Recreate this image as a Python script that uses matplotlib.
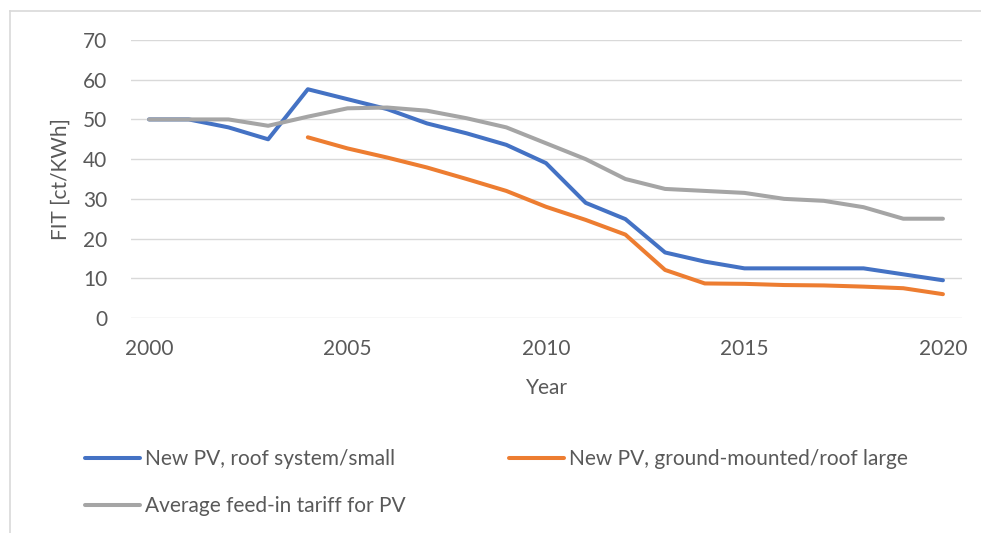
import matplotlib
matplotlib.use("Agg")
import matplotlib.pyplot as plt
from matplotlib.lines import Line2D
import numpy as np

plt.rcParams['font.family'] = ['Lato', 'DejaVu Sans']

years = list(range(2000, 2021))
roof_small = [50, 50, 48, 45, 57.6, 55.1, 52.6, 49, 46.5, 43.6, 39, 29, 24.9,
              16.5, 14.2, 12.5, 12.5, 12.5, 12.5, 11, 9.5]
ground_large = [np.nan, np.nan, np.nan, np.nan, 45.5, 42.7, 40.4, 37.9, 35, 32, 28,
                24.7, 21, 12.1, 8.7, 8.6, 8.3, 8.2, 7.9, 7.5, 6]
avg_tariff = [50, 50, 50, 48.4, 50.7, 52.8, 53, 52.2, 50.3, 48, 44, 40, 35,
              32.5, 32, 31.5, 30, 29.5, 27.9, 25, 25]
labels = ["New PV, roof system/small", "New PV, ground-mounted/roof large",
          "Average feed-in tariff for PV"]
colors = ["#4472C4", "#ED7D31", "#A5A5A5"]
xticks = [2000, 2005, 2010, 2015, 2020]
yticks = [0, 10, 20, 30, 40, 50, 60, 70]

W, H = 981, 533
fig = plt.figure(figsize=(W / 100, H / 100), dpi=100)
left, right, top, bottom = 131, 962, 40, 318
ax = fig.add_axes([left / W, 1 - bottom / H, (right - left) / W, (bottom - top) / H])

txt = "#595959"
fs = 15
handles = []
for vals, lab, c in zip([roof_small, ground_large, avg_tariff], labels, colors):
    h, = ax.plot(years, vals, color=c, lw=2.9, solid_capstyle='round',
                 solid_joinstyle='round', label=lab)
    handles.append(h)

ax.set_xlim(1999.545, 2020.48)
ax.set_ylim(0, 70)
ax.set_xticks(xticks)
ax.set_yticks(yticks)
ax.grid(axis='y', color='#D9D9D9', lw=1)
ax.set_axisbelow(True)
for s in ax.spines.values():
    s.set_visible(False)
ax.tick_params(axis='both', length=0, labelsize=fs, labelcolor=txt)
ax.tick_params(axis='y', pad=17)
ax.tick_params(axis='x', pad=15)
ax.set_xlabel("Year", fontsize=fs, color=txt, va='center')
ax.set_ylabel("FIT [ct/KWh]", fontsize=fs, color=txt, va='center')
ax.xaxis.set_label_coords((547 - left) / (right - left), (bottom - 388) / (bottom - top))
ax.yaxis.set_label_coords((61 - left) / (right - left), 0.5)

order = [0, 2, 1]
leg = fig.legend([handles[i] for i in order], [labels[i] for i in order],
                 ncol=2, loc='upper left', bbox_to_anchor=(85 / W, 1 - 449 / H),
                 frameon=False, fontsize=fs, labelcolor=txt, borderpad=0,
                 borderaxespad=0, handlelength=2.65, handletextpad=0.25,
                 labelspacing=1.3, columnspacing=4.93)

# chart border (cropped)
fig.add_artist(Line2D([10 / W, 10 / W], [0, 1 - 11 / H], color='#D9D9D9', lw=1.2,
                      transform=fig.transFigure))
fig.add_artist(Line2D([10 / W, 1], [1 - 11 / H, 1 - 11 / H], color='#D9D9D9', lw=1.2,
                      transform=fig.transFigure))

fig.savefig("out.png", dpi=100, facecolor='white')
